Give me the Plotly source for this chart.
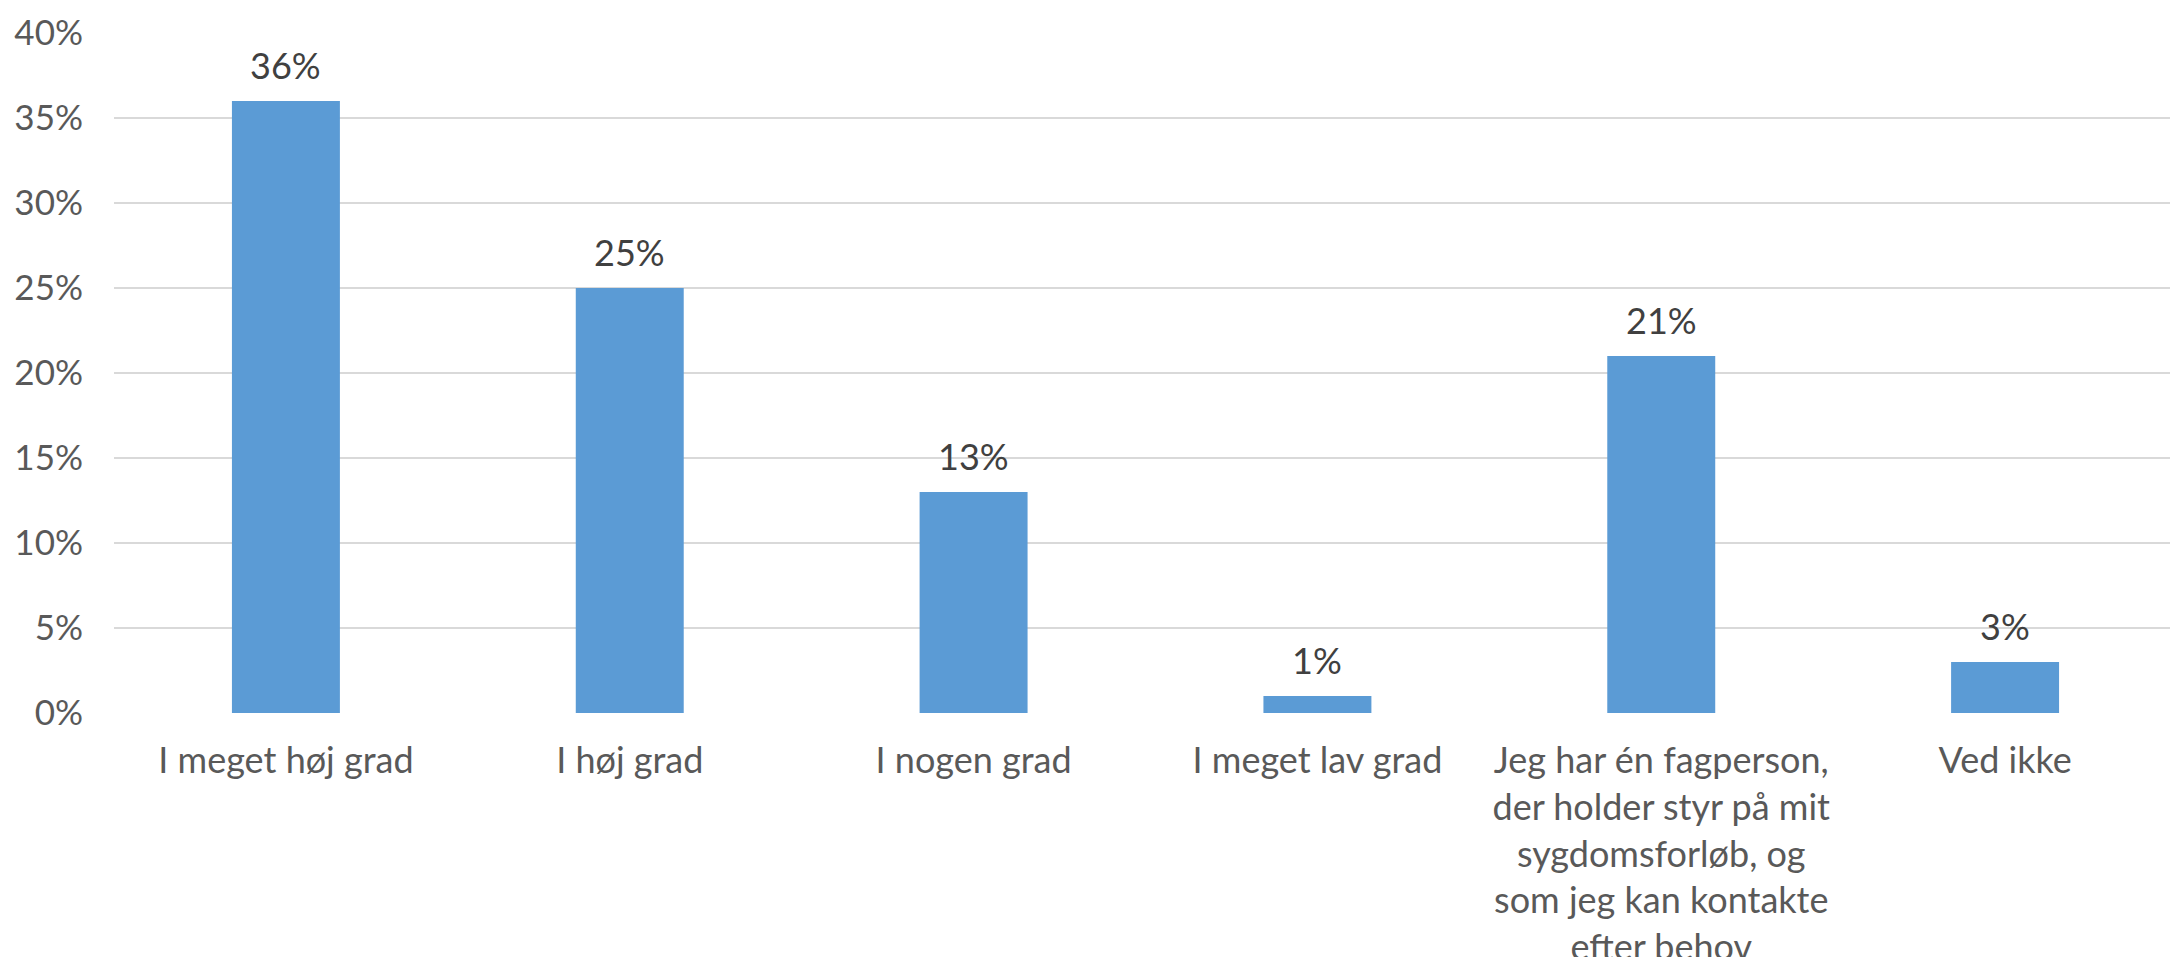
import plotly.graph_objects as go

categories = [
    "I meget høj grad",
    "I høj grad",
    "I nogen grad",
    "I meget lav grad",
    "Jeg har én fagperson,<br>der holder styr på mit<br>sygdomsforløb, og<br>som jeg kan kontakte<br>efter behov",
    "Ved ikke",
]
values = [0.36, 0.25, 0.13, 0.01, 0.21, 0.03]
y_ticks = [0, 0.05, 0.10, 0.15, 0.20, 0.25, 0.30, 0.35, 0.40]

FONT = "Lato, 'Open Sans', sans-serif"

fig = go.Figure(
    go.Bar(
        x=categories,
        y=values,
        marker=dict(color="#5B9BD5", line=dict(width=0)),
        hoverinfo="skip",
    )
)

for c, v in zip(categories, values):
    fig.add_annotation(
        x=c, y=v, xref="x", yref="y",
        text=f"{v:.0%}",
        showarrow=False,
        yanchor="bottom",
        yshift=12,
        font=dict(family=FONT, size=36, color="#404040"),
    )

fig.update_layout(
    width=2170,
    height=949,
    margin=dict(l=106, r=1, t=25, b=244),
    paper_bgcolor="white",
    plot_bgcolor="white",
    bargap=0.686,
    showlegend=False,
    font=dict(family=FONT, size=36, color="#595959"),
)
fig.update_xaxes(
    automargin=False,
    showline=False,
    showgrid=False,
    tickfont=dict(family=FONT, size=36, color="#595959"),
    ticklabelstandoff=23,
)
fig.update_yaxes(
    automargin=False,
    range=[0, 0.4],
    tickvals=y_ticks,
    tickformat=".0%",
    showgrid=True,
    gridcolor="#D9D9D9",
    gridwidth=2,
    zeroline=False,
    showline=False,
    ticklabelstandoff=30,
    tickfont=dict(family=FONT, size=35, color="#595959"),
)

fig.write_html("out.html")
